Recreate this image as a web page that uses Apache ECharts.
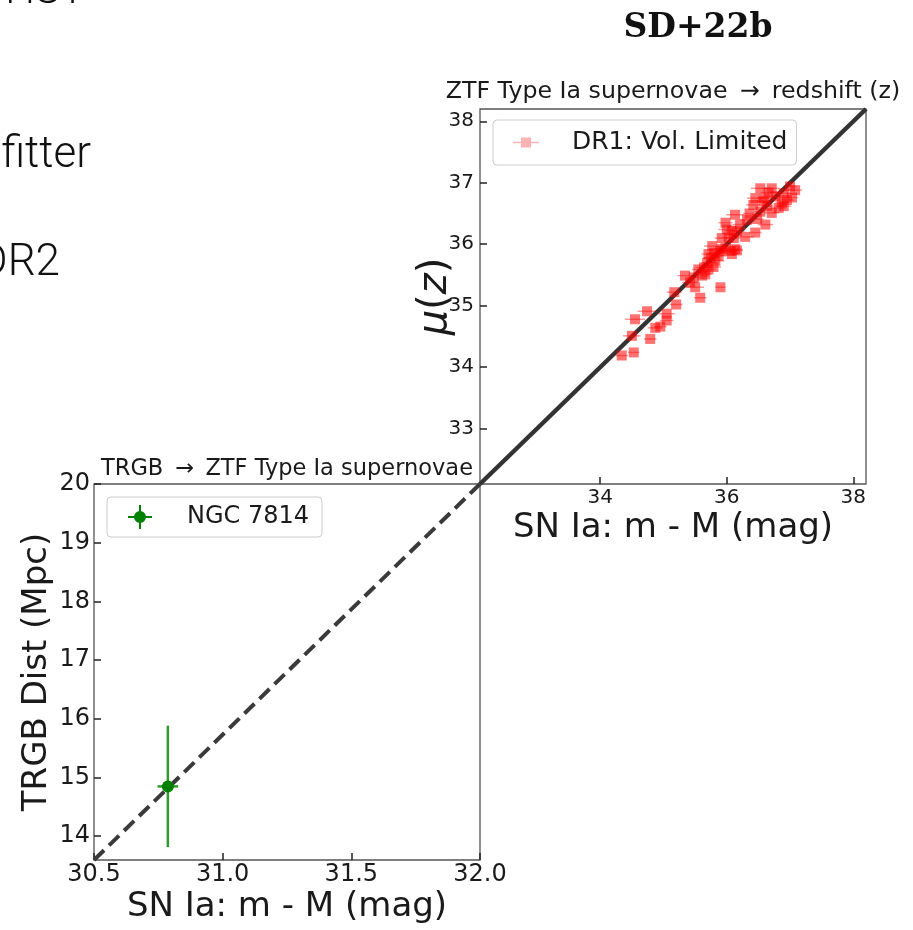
<!DOCTYPE html>
<html>
<head>
<meta charset="utf-8">
<script src="https://cdn.jsdelivr.net/npm/echarts@6/dist/echarts.min.js"></script>
<style>
html,body{margin:0;padding:0;background:#fff;}
#chart{width:913px;height:930px;}
</style>
</head>
<body>
<div id="chart"></div>
<script>
// ---- tick labels ----
const lowerXTicks = [30.5, 31.0, 31.5, 32.0];
const lowerYTicks = [14, 15, 16, 17, 18, 19, 20];
const upperXTicks = [34, 36, 38];
const upperYTicks = [33, 34, 35, 36, 37, 38];

// ---- axis ranges ----
const lowerXRange = [30.5, 32.0];
const lowerYRange = [13.59, 20.0];
const upperXRange = [32.1, 38.2];
const upperYRange = [32.1, 38.2];

// ---- one-to-one lines ----
const lowerDiag = [[30.5, 13.59], [32.0, 20.0]];
const upperDiag = [[32.1, 32.1], [38.2, 38.2]];

// ---- TRGB -> SN Ia (NGC 7814) ----
const ngcName = ['NGC 7814'];
const ngcMag = [30.787];
const ngcDist = [14.845];
const ngcMagErr = [0.04];
const ngcDistErr = [1.035];

// ---- DR1 volume-limited SNe Ia ----
const snMag = [34.34,34.53,34.50,34.79,34.55,34.74,34.87,34.95,35.05,35.05,
  35.20,35.17,35.58,35.50,35.90,35.34,35.48,35.61,35.42,35.55,
  35.71,35.69,35.82,35.71,35.87,36.08,35.77,35.92,36.13,36.03,
  36.08,35.92,36.11,36.29,36.45,36.16,36.00,35.98,36.21,36.48,
  36.32,36.61,36.13,36.53,36.71,36.42,36.64,36.82,36.45,36.77,
  36.95,36.90,36.53,36.71,37.00,37.08,37.03,36.90,36.58,36.66,
  35.66,35.79,36.06,36.16,35.98,35.75,35.90,35.64,35.80,36.36,
  36.60,36.87];
const muZ = [34.19,34.24,34.51,34.46,34.78,34.91,34.64,34.66,34.76,34.87,
  35.02,35.22,35.13,35.30,35.30,35.49,35.46,35.49,35.38,35.59,
  35.59,35.70,35.73,35.84,35.81,35.84,35.97,35.92,35.92,36.11,
  36.22,36.10,36.10,36.12,36.19,36.21,36.24,36.35,36.32,36.41,
  36.40,36.32,36.48,36.53,36.51,36.64,36.62,36.59,36.75,36.78,
  36.72,36.83,36.91,36.91,36.94,36.88,36.76,36.62,36.70,36.84,
  35.51,35.63,35.89,35.90,35.94,35.78,35.89,35.62,35.86,36.50,
  36.75,36.68];
const snMagErr = [0.10,0.09,0.14,0.10,0.16,0.15,0.12,0.10,0.11,0.13,
  0.10,0.12,0.10,0.14,0.08,0.12,0.10,0.11,0.13,0.10,
  0.12,0.10,0.14,0.11,0.12,0.10,0.13,0.11,0.12,0.10,
  0.12,0.11,0.10,0.14,0.10,0.12,0.13,0.11,0.12,0.10,
  0.11,0.12,0.14,0.10,0.12,0.11,0.10,0.12,0.13,0.10,
  0.11,0.12,0.15,0.12,0.10,0.11,0.10,0.12,0.11,0.12,
  0.10,0.12,0.11,0.10,0.12,0.11,0.10,0.12,0.11,0.10,
  0.12,0.10];

const FONT = 'DejaVu Sans';
const TXT = '#1a1a1a';

function errRender(color, lw, opacity) {
  return function (params, api) {
    const x = api.value(0), y = api.value(1), ex = api.value(2), ey = api.value(3);
    const children = [];
    if (ex > 0) {
      const a = api.coord([x - ex, y]), b = api.coord([x + ex, y]);
      children.push({type: 'line', shape: {x1: a[0], y1: a[1], x2: b[0], y2: b[1]},
        style: {stroke: color, lineWidth: lw, opacity: opacity}});
    }
    if (ey > 0) {
      const a = api.coord([x, y - ey]), b = api.coord([x, y + ey]);
      children.push({type: 'line', shape: {x1: a[0], y1: a[1], x2: b[0], y2: b[1]},
        style: {stroke: color, lineWidth: lw, opacity: opacity}});
    }
    return {type: 'group', children: children};
  };
}

function valueAxis(gridIndex, range, ticks, fontSize, margin, extra) {
  return Object.assign({
    type: 'value', gridIndex: gridIndex, min: range[0], max: range[1],
    axisLine: {show: false},
    splitLine: {show: false},
    axisTick: {show: true, inside: true, length: 7, customValues: ticks,
      lineStyle: {color: '#222', width: 1.5}},
    axisLabel: {show: true, customValues: ticks, margin: margin,
      fontFamily: FONT, fontSize: fontSize, color: TXT},
    nameTextStyle: {fontFamily: FONT, fontSize: 34, color: TXT},
    nameLocation: 'middle'
  }, extra || {});
}

const chart = echarts.init(document.getElementById('chart'), null, {renderer: 'canvas'});

const option = {
  animation: false,
  backgroundColor: '#fff',
  grid: [
    {left: 94, top: 484, width: 386, height: 376, show: true,
      borderColor: '#555', borderWidth: 1.3, backgroundColor: 'transparent', containLabel: false},
    {left: 480, top: 109, width: 386, height: 375, show: true,
      borderColor: '#555', borderWidth: 1.3, backgroundColor: 'transparent', containLabel: false}
  ],
  xAxis: [
    valueAxis(0, lowerXRange, lowerXTicks, 24, 3, {
      name: 'SN Ia: m - M (mag)', nameGap: 30,
      axisLabel: {show: true, customValues: lowerXTicks, margin: 3, fontFamily: FONT,
        fontSize: 24, color: TXT, formatter: v => Number(v).toFixed(1)}
    }),
    valueAxis(1, upperXRange, upperXTicks, 20, 4, {
      name: 'SN Ia: m - M (mag)', nameGap: 27
    })
  ],
  yAxis: [
    valueAxis(0, lowerYRange, lowerYTicks, 24, 4, {
      name: 'TRGB Dist (Mpc)', nameGap: 40
    }),
    valueAxis(1, upperYRange, upperYTicks, 20, 6, {
      name: '{i|μ}({i|z})', nameGap: 24, nameMoveOverlap: false,
      nameTextStyle: {fontFamily: FONT, fontSize: 40, color: TXT,
        rich: {i: {fontFamily: FONT, fontSize: 40, fontStyle: 'italic', color: TXT}}}
    })
  ],
  legend: [
    {
      data: [{name: 'DR1: Vol. Limited', itemStyle: {color: 'rgba(255,0,0,0.55)'}}],
      selectedMode: false, orient: 'vertical',
      left: 493, top: 120, padding: [10, 9, 10, 20],
      itemWidth: 26, itemHeight: 10,
      icon: 'path://M0,4.25H26V5.75H0Z M8,0H18V10H8Z',
      textStyle: {fontFamily: FONT, fontSize: 25, color: TXT, padding: [0, 0, 0, 28]},
      borderColor: '#cccccc', borderWidth: 1, borderRadius: 4,
      backgroundColor: 'rgba(255,255,255,0.8)'
    },
    {
      data: [{name: ngcName[0], itemStyle: {color: '#008000'}}],
      selectedMode: false, orient: 'vertical',
      left: 107, top: 497, padding: [8, 13, 8, 21],
      itemWidth: 24, itemHeight: 24,
      icon: 'path://M0,11H24V13H0Z M11,0H13V24H11Z M18,12A6,6 0 1,1 6,12A6,6 0 1,1 18,12Z',
      textStyle: {fontFamily: FONT, fontSize: 24, color: TXT, padding: [0, 0, 0, 30]},
      borderColor: '#cccccc', borderWidth: 1, borderRadius: 4,
      backgroundColor: 'rgba(255,255,255,0.8)'
    }
  ],
  series: [
    {
      name: 'one-to-one lower', type: 'line', xAxisIndex: 0, yAxisIndex: 0,
      data: lowerDiag, showSymbol: false, symbol: 'none', silent: true, z: 1,
      lineStyle: {color: '#3a3a3a', width: 4, type: [14, 7]}
    },
    {
      name: 'one-to-one upper', type: 'line', xAxisIndex: 1, yAxisIndex: 1,
      data: upperDiag, showSymbol: false, symbol: 'none', silent: true, z: 1,
      lineStyle: {color: '#333333', width: 4.5}
    },
    {
      name: 'DR1 err', type: 'custom', xAxisIndex: 1, yAxisIndex: 1, z: 2, silent: true,
      renderItem: errRender('#ff0000', 1.5, 0.4),
      data: snMag.map((v, i) => [v, muZ[i], snMagErr[i], 0])
    },
    {
      name: 'DR1: Vol. Limited', type: 'scatter', xAxisIndex: 1, yAxisIndex: 1, z: 3,
      symbol: 'rect', symbolSize: 10, silent: true,
      itemStyle: {color: '#ff0000', opacity: 0.55},
      data: snMag.map((v, i) => [v, muZ[i]])
    },
    {
      name: 'NGC err', type: 'custom', xAxisIndex: 0, yAxisIndex: 0, z: 4, silent: true,
      renderItem: errRender('#2e9a2e', 2.5, 1),
      data: ngcMag.map((v, i) => [v, ngcDist[i], ngcMagErr[i], ngcDistErr[i]])
    },
    {
      name: ngcName[0], type: 'scatter', xAxisIndex: 0, yAxisIndex: 0, z: 5,
      symbol: 'circle', symbolSize: 12, silent: true,
      itemStyle: {color: '#008000', opacity: 1},
      data: ngcMag.map((v, i) => [v, ngcDist[i]])
    }
  ],
  graphic: [
    {type: 'text', x: 85, y: -8, silent: true,
      style: {text: 'HST', font: '300 42px Roboto', fill: '#111', textAlign: 'right', textVerticalAlign: 'middle'}},
    {type: 'text', x: 91, y: 156, silent: true,
      style: {text: 'fitter', font: '300 44px Roboto', fill: '#111', textAlign: 'right', textVerticalAlign: 'middle'}},
    {type: 'text', x: 60, y: 264, silent: true,
      style: {text: 'DR2', font: '300 44px Roboto', fill: '#111', textAlign: 'right', textVerticalAlign: 'middle'}},
    {type: 'text', x: 698, y: 28, silent: true,
      style: {text: 'SD+22b', font: 'bold 33px "DejaVu Serif"', fill: '#111', textAlign: 'center', textVerticalAlign: 'middle'}},
    {type: 'text', x: 287, y: 469, silent: true,
      style: {text: 'TRGB \u2009\u2192\u2009 ZTF Type Ia supernovae', font: '22.5px "DejaVu Sans"', fill: TXT, textAlign: 'center', textVerticalAlign: 'middle'}},
    {type: 'text', x: 673, y: 92, silent: true,
      style: {text: 'ZTF Type Ia supernovae \u2009\u2192\u2009 redshift (z)', font: '23.7px "DejaVu Sans"', fill: TXT, textAlign: 'center', textVerticalAlign: 'middle'}}
  ]
};

chart.setOption(option);
</script>
</body>
</html>
